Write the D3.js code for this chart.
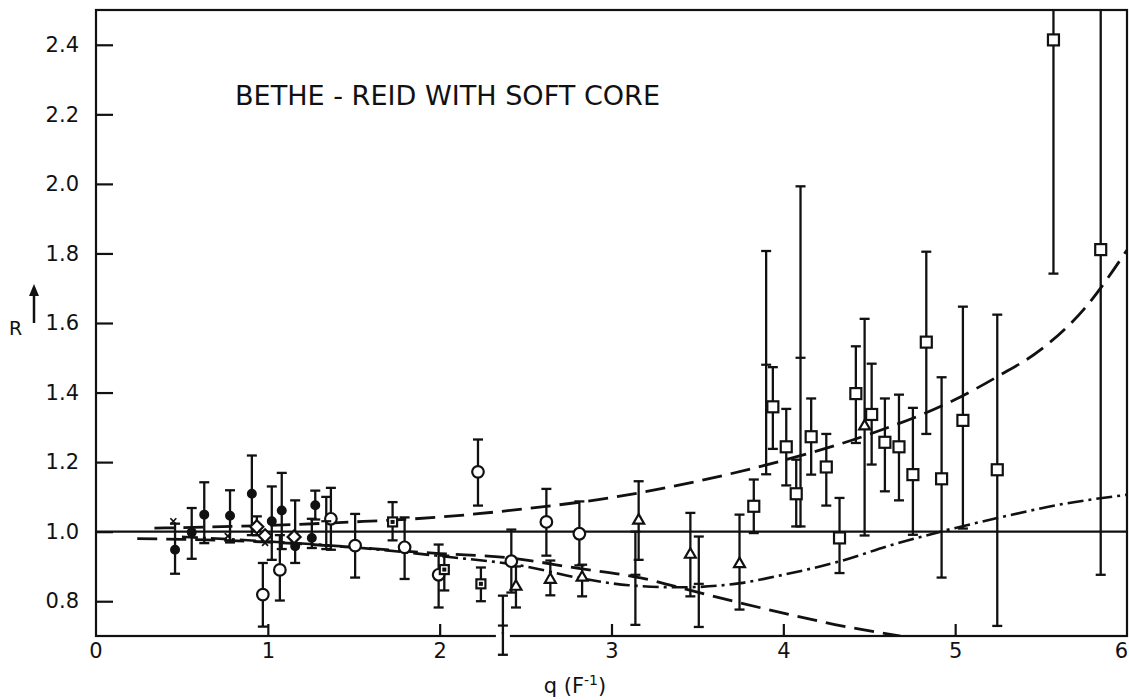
<!DOCTYPE html>
<html>
<head>
<meta charset="utf-8">
<script src="https://cdn.jsdelivr.net/npm/d3@7"></script>
<style>
  html, body { margin: 0; padding: 0; background: #fff; }
  svg { display: block; }
  text { font-family: "DejaVu Sans", "Liberation Sans", sans-serif; fill: #111; }
</style>
</head>
<body>
<svg id="chart" width="1129" height="700"></svg>
<script>
// ---- axis ticks ----
const xTicks = [0, 1, 2, 3, 4, 5, 6];
const yTicks = [0.8, 1.0, 1.2, 1.4, 1.6, 1.8, 2.0, 2.2, 2.4];

// ---- measured ratios: [q, R, low, high] ----
const filledDots = [
  [0.46, 0.948, 0.879, 1.023],
  [0.557, 0.998, 0.922, 1.068],
  [0.63, 1.049, 0.967, 1.142],
  [0.78, 1.046, 0.969, 1.119],
  [0.907, 1.109, 0.99, 1.219],
  [1.023, 1.03, 0.919, 1.13],
  [1.081, 1.061, 0.95, 1.169],
  [1.159, 0.958, 0.91, 1.09],
  [1.276, 1.076, 1.035, 1.118],
  [1.256, 0.982, 0.953, 1.037]
];
const crossMarks = [
  [0.45, 1.03],
  [0.767, 0.987],
  [0.984, 0.968]
];
const diamonds = [
  [0.936, 1.014, 0.99, 1.044],
  [0.984, 0.988, null, null],
  [1.153, 0.985, null, null]
];
const openCircles = [
  [0.971, 0.819, 0.727, 0.91],
  [1.07, 0.89, 0.802, 0.99],
  [1.367, 1.037, 0.948, 1.126],
  [1.508, 0.96, 0.868, 1.051],
  [1.796, 0.955, 0.864, 1.041],
  [1.994, 0.876, 0.782, 0.963],
  [2.223, 1.172, 1.075, 1.265],
  [2.417, 0.915, 0.825, 1.006],
  [2.621, 1.028, 0.931, 1.123],
  [2.813, 0.994, 0.903, 1.087]
];
const dotSquares = [
  [1.726, 1.028, 0.975, 1.085],
  [2.027, 0.891, 0.831, 0.931],
  [2.24, 0.85, 0.80, 0.897]
];
const triangles = [
  [2.444, 0.845, 0.782, 0.90],
  [2.644, 0.865, 0.817, 0.917],
  [2.829, 0.871, 0.814, 0.905],
  [3.158, 1.035, 0.919, 1.145],
  [3.459, 0.937, 0.814, 1.054],
  [3.745, 0.91, 0.776, 1.049],
  [4.473, 1.306, 0.989, 1.612]
];
const plusPoints = [
  [1.34, 1.03, 0.95, 1.10],
  [2.368, 0.73, 0.646, 0.816],
  [3.139, 0.876, 0.732, 1.0],
  [3.508, 0.85, 0.726, 0.986],
  [3.90, 1.48, 1.165, 1.807],
  [4.10, 1.50, 1.015, 1.993]
];
const openSquares = [
  [3.828, 1.073, 0.996, 1.15],
  [3.939, 1.359, 1.238, 1.473],
  [4.017, 1.244, 1.133, 1.353],
  [4.075, 1.109, 1.015, 1.207],
  [4.162, 1.273, 1.164, 1.383],
  [4.25, 1.186, 1.075, 1.281],
  [4.327, 0.982, 0.881, 1.097],
  [4.422, 1.397, 1.255, 1.533],
  [4.514, 1.337, 1.193, 1.483],
  [4.591, 1.257, 1.116, 1.383],
  [4.673, 1.244, 1.09, 1.394],
  [4.754, 1.164, 0.991, 1.356],
  [4.832, 1.545, 1.281, 1.805],
  [4.921, 1.152, 0.868, 1.444],
  [5.045, 1.32, 1.009, 1.647],
  [5.245, 1.178, 0.729, 1.624],
  [5.572, 2.414, 1.742, 2.7],
  [5.847, 1.811, 0.876, 2.7]
];

// ---- theory curves: [q, R] ----
const unityLine = [[0, 1.0], [6, 1.0]];
const risingCurve = [
  [0.34, 1.01], [1.0, 1.018], [1.5, 1.028], [2.0, 1.042], [2.5, 1.066],
  [3.0, 1.098], [3.5, 1.145], [4.0, 1.205], [4.5, 1.28], [5.0, 1.38],
  [5.25, 1.447], [5.5, 1.524], [5.75, 1.64], [6.0, 1.81]
];
const fallingCurve = [
  [0.24, 0.98], [0.5, 0.978], [1.0, 0.97], [1.5, 0.955], [2.0, 0.937],
  [2.4, 0.925], [2.8, 0.895], [3.17, 0.867], [3.5, 0.826], [3.75, 0.795],
  [4.0, 0.766], [4.3, 0.733], [4.68, 0.70]
];
const dashDotCurve = [
  [0.5, 0.985], [1.0, 0.972], [1.5, 0.955], [2.0, 0.93], [2.5, 0.9],
  [2.8, 0.868], [3.1, 0.846], [3.4, 0.84], [3.75, 0.852], [4.0, 0.876],
  [4.33, 0.915], [4.62, 0.96], [4.915, 1.0], [5.245, 1.039], [5.61, 1.078],
  [6.0, 1.106]
];

const svg = d3.select("#chart");
const x = d3.scaleLinear().domain([0, 6]).range([96, 1127]);
const y = d3.scaleLinear().domain([0.7, 2.5]).range([636, 10]);
const ink = "#111";

svg.append("clipPath").attr("id", "plotClip")
  .append("rect").attr("x", x(0)).attr("y", y(2.5))
  .attr("width", x(6) - x(0)).attr("height", y(0.7) - y(2.5));

// frame
svg.append("rect")
  .attr("x", x(0)).attr("y", y(2.5))
  .attr("width", x(6) - x(0)).attr("height", y(0.7) - y(2.5))
  .attr("fill", "none").attr("stroke", ink).attr("stroke-width", 2.2);

// axes with inward ticks
const yAxis = svg.append("g").attr("transform", `translate(${x(0)},0)`)
  .call(d3.axisLeft(y).tickValues(yTicks).tickSize(-17).tickPadding(17)
    .tickFormat(d3.format(".1f")));
const xAxis = svg.append("g").attr("transform", `translate(0,${y(0.7)})`)
  .call(d3.axisBottom(x).tickValues(xTicks.filter(d => d > 0 && d < 6)).tickSize(-12)
    .tickPadding(7).tickFormat(d3.format("d")));
[yAxis, xAxis].forEach(g => {
  g.select(".domain").remove();
  g.selectAll(".tick line").attr("stroke", ink).attr("stroke-width", 2.2);
  g.selectAll(".tick text").attr("font-size", 21).attr("fill", ink)
    .style("font-family", "'DejaVu Sans', sans-serif");
});
// end labels of the q axis sit under the frame corners
svg.append("g").selectAll("text").data(xTicks.filter(d => d === 0 || d === 6)).join("text")
  .attr("x", d => d === 0 ? x(d) : 1128).attr("y", y(0.7) + 7).attr("dy", "0.71em")
  .attr("text-anchor", d => d === 0 ? "middle" : "end").attr("font-size", 21).text(d => d);

// curves
const line = d3.line().x(d => x(d[0])).y(d => y(d[1])).curve(d3.curveMonotoneX);
const curves = svg.append("g").attr("clip-path", "url(#plotClip)").attr("fill", "none")
  .attr("stroke", ink);
curves.append("path").attr("d", line(unityLine)).attr("stroke-width", 2.2);
curves.append("path").attr("d", line(risingCurve)).attr("stroke-width", 2.8)
  .attr("stroke-dasharray", "20,9");
curves.append("path").attr("d", line(fallingCurve)).attr("stroke-width", 2.8)
  .attr("stroke-dasharray", "20,9");
curves.append("path").attr("d", line(dashDotCurve)).attr("stroke-width", 2.6)
  .attr("stroke-dasharray", "16,5,3,5");

// error bars
const bars = svg.append("g").attr("clip-path", "url(#plotClip)")
  .attr("stroke", ink).attr("stroke-width", 2.3);
const allBars = [].concat(filledDots, diamonds, openCircles, dotSquares, triangles,
  plusPoints, openSquares).filter(d => d[2] != null);
allBars.forEach(d => {
  bars.append("line").attr("x1", x(d[0])).attr("x2", x(d[0]))
    .attr("y1", y(d[2])).attr("y2", y(d[3]));
  [d[2], d[3]].forEach(v => {
    if (v > 0.7 && v < 2.5) {
      bars.append("line").attr("x1", x(d[0]) - 5).attr("x2", x(d[0]) + 5)
        .attr("y1", y(v)).attr("y2", y(v));
    }
  });
});
// bars dipping below the lower frame break the axis line
const below = allBars.filter(d => d[2] < 0.7);
below.forEach(d => {
  svg.append("rect").attr("x", x(d[0]) - 7).attr("y", y(0.7) - 2)
    .attr("width", 14).attr("height", 4).attr("fill", "#fff");
  svg.append("line").attr("stroke", ink).attr("stroke-width", 2.3)
    .attr("x1", x(d[0])).attr("x2", x(d[0])).attr("y1", y(0.7) - 4).attr("y2", y(d[2]));
  svg.append("line").attr("stroke", ink).attr("stroke-width", 2.3)
    .attr("x1", x(d[0]) - 5).attr("x2", x(d[0]) + 5).attr("y1", y(d[2])).attr("y2", y(d[2]));
});

// markers
const mk = svg.append("g").attr("stroke", ink).attr("stroke-width", 2.2);
mk.selectAll(".dot").data(filledDots).join("circle")
  .attr("cx", d => x(d[0])).attr("cy", d => y(d[1])).attr("r", 3.9).attr("fill", ink);
mk.selectAll(".oc").data(openCircles).join("circle")
  .attr("cx", d => x(d[0])).attr("cy", d => y(d[1])).attr("r", 5.8).attr("fill", "#fff");
mk.selectAll(".dsq").data(dotSquares).join("g").each(function (d) {
  const g = d3.select(this);
  g.append("rect").attr("x", x(d[0]) - 4.5).attr("y", y(d[1]) - 4.5)
    .attr("width", 9).attr("height", 9).attr("fill", "#fff");
  g.append("rect").attr("x", x(d[0]) - 2).attr("y", y(d[1]) - 2)
    .attr("width", 4).attr("height", 4).attr("fill", ink).attr("stroke", "none");
});
mk.selectAll(".osq").data(openSquares).join("rect")
  .attr("x", d => x(d[0]) - 5.5).attr("y", d => y(d[1]) - 5.5)
  .attr("width", 11).attr("height", 11).attr("fill", "#fff");
const tri = d3.symbol().type(d3.symbolTriangle).size(52);
mk.selectAll(".tri").data(triangles).join("path")
  .attr("transform", d => `translate(${x(d[0])},${y(d[1]) + 1})`)
  .attr("d", tri).attr("fill", "#fff");
mk.selectAll(".dia").data(diamonds).join("path")
  .attr("d", d => {
    const cx = x(d[0]), cy = y(d[1]), r = 6.5;
    return `M${cx},${cy - r}L${cx + r},${cy}L${cx},${cy + r}L${cx - r},${cy}Z`;
  }).attr("fill", "#fff");
mk.selectAll(".plus").data(plusPoints).join("line")
  .attr("x1", d => x(d[0]) - 5).attr("x2", d => x(d[0]) + 5)
  .attr("y1", d => y(d[1])).attr("y2", d => y(d[1]));
mk.selectAll(".xm").data(crossMarks).join("path")
  .attr("stroke-width", 1.7)
  .attr("d", d => {
    const cx = x(d[0]), cy = y(d[1]), r = 3;
    return `M${cx - r},${cy - r}L${cx + r},${cy + r}M${cx - r},${cy + r}L${cx + r},${cy - r}`;
  });

// title
svg.append("text").attr("x", 235).attr("y", 105).attr("font-size", 27)
  .attr("textLength", 425).attr("lengthAdjust", "spacingAndGlyphs")
  .text("BETHE - REID WITH SOFT CORE");

// axis titles
svg.append("text").attr("x", 9).attr("y", 335).attr("font-size", 19).text("R");
svg.append("line").attr("x1", 34).attr("x2", 34).attr("y1", 323).attr("y2", 292)
  .attr("stroke", ink).attr("stroke-width", 2.5);
svg.append("path").attr("d", "M34,284L39,296L29,296Z").attr("fill", ink);

const xl = svg.append("text").attr("x", 575).attr("y", 693).attr("font-size", 21)
  .attr("text-anchor", "middle");
xl.append("tspan").text("q  (F");
xl.append("tspan").attr("dy", -8).attr("font-size", 14).text("-1");
xl.append("tspan").attr("dy", 8).text(")");
</script>
</body>
</html>
